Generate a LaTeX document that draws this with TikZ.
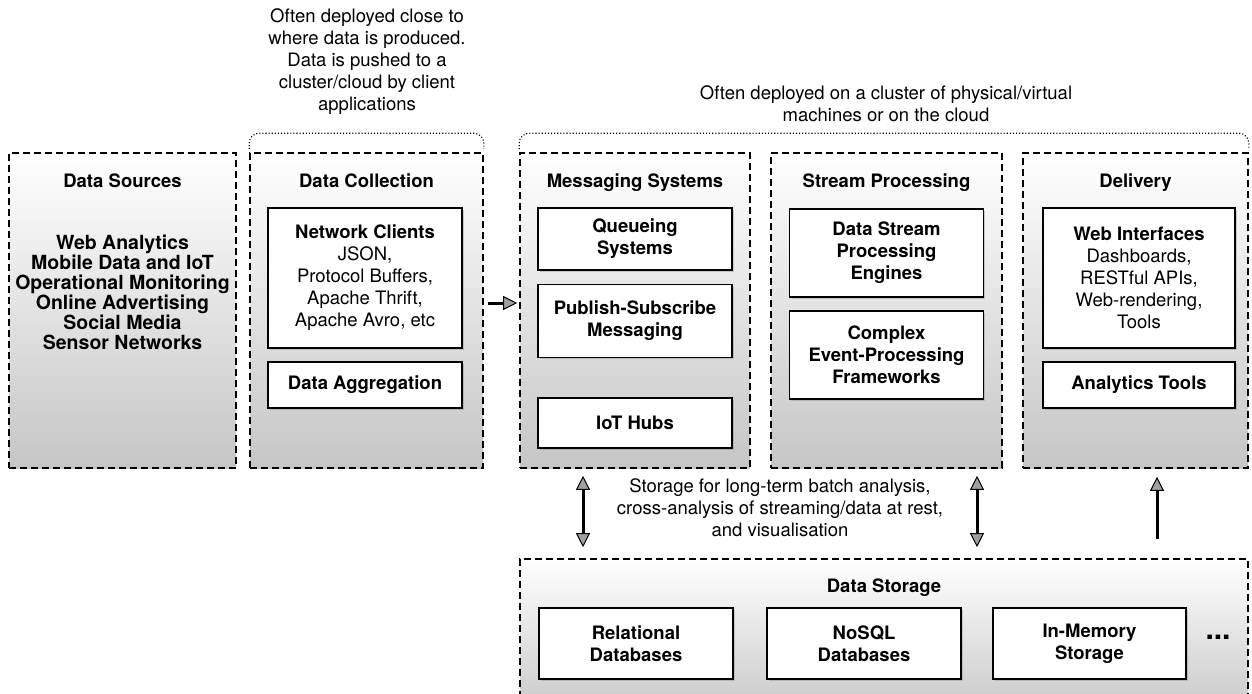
\documentclass[tikz,border=0pt]{standalone}
\usepackage{fontspec}
\setmainfont{TeX Gyre Heros}
\usetikzlibrary{positioning,shadows,arrows.meta}
\newcommand\boxfont{\fontsize{18.5}{22}\selectfont}
\tikzstyle{group}=[draw, line width=1.6pt, dash pattern=on 7pt off 4pt, top color=white, bottom color=gray!45, minimum height=315pt, inner sep=0pt]
\tikzstyle{item}=[draw, line width=1.3pt, fill=white, align=center, font=\boxfont\bfseries, inner sep=0pt, drop shadow={shadow xshift=1.5pt, shadow yshift=-1.5pt, opacity=0.35}]
\tikzstyle{title}=[font=\boxfont\bfseries, text height=13.5pt, text depth=4pt]
\tikzstyle{note}=[align=center, font=\boxfont]
\tikzstyle{bracket}=[dotted, line width=1.1pt, rounded corners=10pt]
\tikzstyle{flow}=[line width=3pt, -{Triangle[length=14pt,width=14pt,fill=gray!75,line width=1pt]}]
\tikzstyle{flow2}=[line width=3pt, {Triangle[length=14pt,width=14pt,fill=gray!75,line width=1pt]}-{Triangle[length=14pt,width=14pt,fill=gray!75,line width=1pt]}]

\begin{document}
\begin{tikzpicture}[x=1pt, y=-1pt]
        \clip (0,0) rectangle (1252,693);
        \fill[white] (0,0) rectangle (1252,693);

        % stages
        \node[group, minimum width=227pt] (src) at (122.5,310.5) {};
        \node[group, minimum width=233pt] (col) at (366.5,310.5) {};
        \node[group, minimum width=230pt] (msg) at (635,310.5) {};
        \node[group, minimum width=231pt] (proc) at (886.5,310.5) {};
        \node[group, minimum width=225pt] (dlv) at (1135.5,310.5) {};
        \node[group, minimum width=728pt, minimum height=161pt] (store) at (884,639.5) {};

        \node[title] (srct) at (122.5,182.5) {Data Sources};
        \node[title] (colt) at (366.5,182.5) {Data Collection};
        \node[title] (msgt) at (635,182.5) {Messaging Systems};
        \node[title] (proct) at (886.5,182.5) {Stream Processing};
        \node[title] (dlvt) at (1135.5,182.5) {Delivery};
        \node[title] (storet) at (884,587.5) {Data Storage};

        \node[align=center, font=\fontsize{19.5}{20}\selectfont\bfseries] (srclist) at (122.5,292) {Web Analytics\\Mobile Data and IoT\\Operational Monitoring\\Online Advertising\\Social Media\\Sensor Networks};

        % components
        \node[item, minimum width=194pt, minimum height=140pt] (clients) at (365,278) {Network Clients\\\textmd{JSON,}\\\textmd{Protocol Buffers,}\\\textmd{Apache Thrift,}\\\textmd{Apache Avro, etc}};
        \node[item, minimum width=194pt, minimum height=46pt] (aggr) at (365,385) {Data Aggregation};
        \node[item, minimum width=194pt, minimum height=62pt] (queue) at (635,239) {Queueing\\Systems};
        \node[item, minimum width=194pt, minimum height=73pt] (pubsub) at (635,321) {Publish-Subscribe\\Messaging};
        \node[item, minimum width=194pt, minimum height=50pt] (iot) at (635,423) {IoT Hubs};
        \node[item, minimum width=194pt, minimum height=88pt] (engines) at (886.5,253) {Data Stream\\Processing\\Engines};
        \node[item, minimum width=194pt, minimum height=88pt] (cep) at (886.5,355) {Complex\\Event-Processing\\Frameworks};
        \node[item, minimum width=192pt, minimum height=140pt] (web) at (1139,278) {Web Interfaces\\\textmd{Dashboards,}\\\textmd{RESTful APIs,}\\\textmd{Web-rendering,}\\\textmd{Tools}};
        \node[item, minimum width=192pt, minimum height=46pt] (atools) at (1139,385) {Analytics Tools};
        \node[item, minimum width=194pt, minimum height=71pt] (rdb) at (636,643.5) {Relational\\Databases};
        \node[item, minimum width=194pt, minimum height=71pt] (nosql) at (864,643.5) {NoSQL\\Databases};
        \node[item, minimum width=193pt, minimum height=71pt] (mem) at (1089.5,643.5) {In-Memory\\Storage};
        \node[font=\fontsize{30}{30}\selectfont\bfseries, inner sep=0pt] (more) at (1218,637) {...};

        % notes
        \node[note] (colnote) at (367,62) {Often deployed close to\\where data is produced.\\Data is pushed to a\\cluster/cloud by client\\applications};
        \node[note] (cloudnote) at (886,104) {Often deployed on a cluster of physical/virtual\\machines or on the cloud};
        \node[note] (storenote) at (780,508) {Storage for long-term batch analysis,\\cross-analysis of streaming/data at rest,\\and visualisation};

        \draw[bracket] ([yshift=3pt]col.north west) -- ([yshift=19pt]col.north west) -- ([yshift=19pt]col.north east) -- ([yshift=3pt]col.north east);
        \draw[bracket] ([yshift=3pt]msg.north west) -- ([yshift=19pt]msg.north west) -- ([yshift=19pt]dlv.north east) -- ([yshift=3pt]dlv.north east);

        % flows
        \draw[flow, shorten <=4pt, shorten >=2pt] ([yshift=7.5pt]col.east) -- ([yshift=7.5pt]msg.west);
        \draw[flow2, shorten <=7pt, shorten >=11pt] ([xshift=-52pt]msg.south) -- ([xshift=-52pt]msg.south |- store.north);
        \draw[flow2, shorten <=7pt, shorten >=11pt] ([xshift=90.5pt]proc.south) -- ([xshift=90.5pt]proc.south |- store.north);
        \draw[flow, shorten <=19pt, shorten >=8pt] ([xshift=21.5pt]dlv.south |- store.north) -- ([xshift=21.5pt]dlv.south);
    \end{tikzpicture}
\end{document}
